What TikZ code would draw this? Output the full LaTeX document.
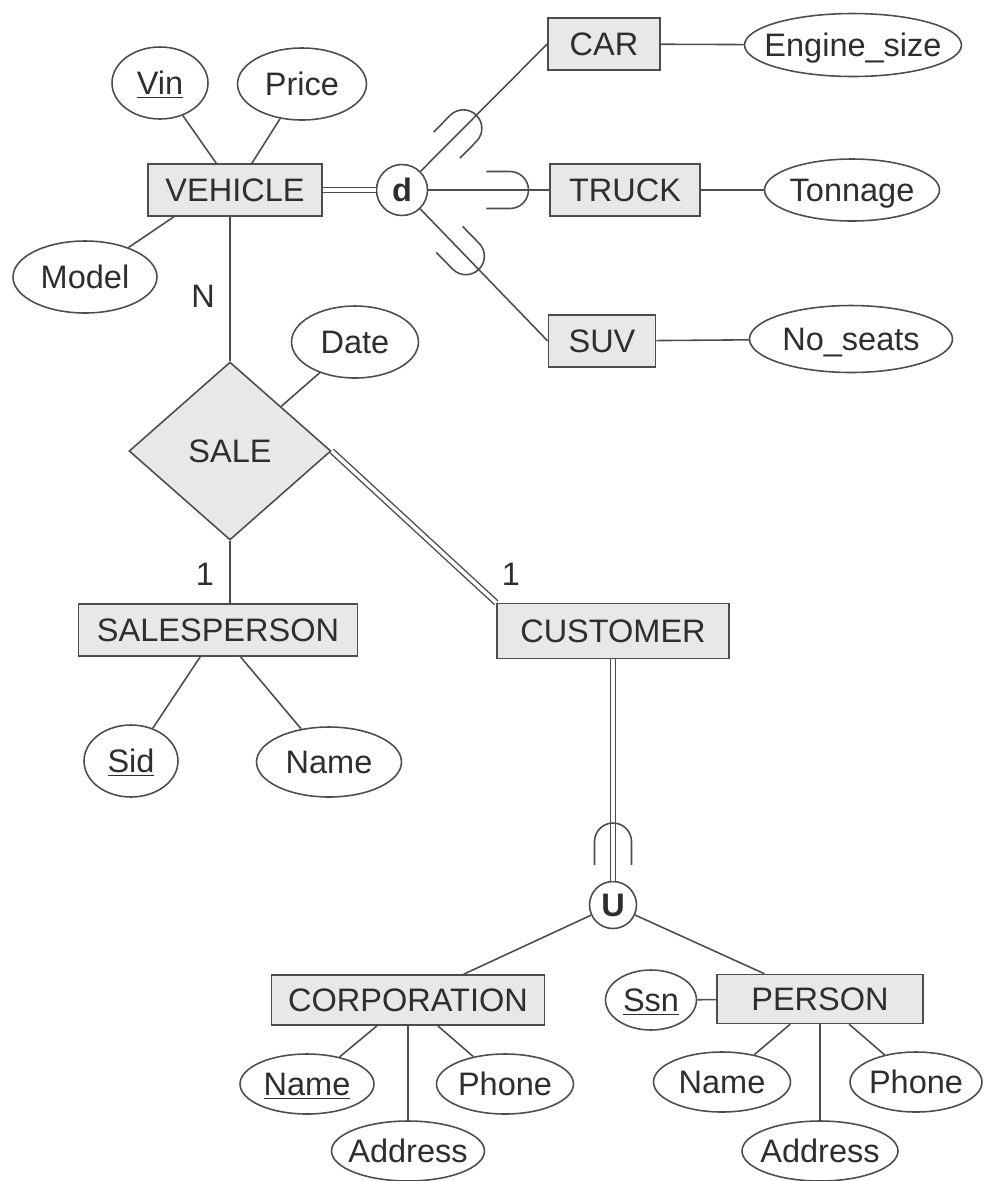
\documentclass[tikz,border=0pt]{standalone}
\usepackage{fontspec}
\setmainfont{Liberation Sans}
\usetikzlibrary{shapes.geometric,calc}

\definecolor{linegray}{HTML}{4D4D4D}
\definecolor{boxgray}{HTML}{E8E8E8}
\definecolor{textgray}{HTML}{2E2E2E}
\newcommand{\erfont}{\fontsize{18.5}{22}\selectfont}
% subset mark: arc centre, direction of the bulge
\newcommand{\subsetarc}[2]{%
  \draw[shift={(#1)}, rotate=#2] (-0.47cm,0.37cm) -- (0,0.37cm)
    arc[start angle=90, end angle=-90, radius=0.37cm] -- (-0.47cm,-0.37cm);}

\begin{document}
\begin{tikzpicture}[x=0.02cm, y=-0.02cm, line width=0.9pt, color=linegray, text=textgray, font=\erfont,
    every label/.append style={text height=13pt, text depth=0pt, inner sep=0pt},
    entity/.style={rectangle, draw, fill=boxgray, minimum width=#1, minimum height=1.03cm, inner sep=0pt},
    attr/.style 2 args={ellipse, draw, minimum width=#1, minimum height=#2, inner sep=0pt},
    relation/.style={diamond, draw, fill=boxgray, minimum width=4.04cm, minimum height=3.56cm, inner sep=0pt},
    joint/.style={circle, draw, fill=white, minimum size=#1, inner sep=0pt, font=\erfont\bfseries},
    dbl/.style={double=white, double distance=2pt, line width=0.8pt}]
    \useasboundingbox (0,0) rectangle (984,1181);

    % vehicle and its subclasses
    \node[entity=3.48cm] (vehicle) at (235,190) {VEHICLE};
    \node[attr={1.92cm}{1.44cm}, label=center:{\underline{Vin}}] (vin) at (160,83) {};
    \node[attr={2.58cm}{1.44cm}, label=center:Price] (price) at (302,84) {};
    \node[attr={2.88cm}{1.44cm}, label=center:Model] (model) at (85,277) {};
    \node[joint=1.02cm] (d) at (402,190) {d};
    \node[entity=2.24cm] (car) at (604,44) {CAR};
    \node[entity=3.0cm] (truck) at (625,190) {TRUCK};
    \node[entity=2.14cm] (suv) at (602,341) {SUV};
    \node[attr={4.34cm}{1.26cm}, label=center:Engine\_size] (engine) at (853,45) {};
    \node[attr={3.5cm}{1.24cm}, label=center:Tonnage] (tonnage) at (852,190) {};
    \node[attr={4.06cm}{1.34cm}, label=center:No\_seats] (seats) at (851,339) {};

    % sale relationship
    \node[relation] (sale) at (230,451) {SALE};
    \node[attr={2.54cm}{1.44cm}, label=center:Date] (date) at (355,342) {};
    \node (cardn) at (203,296) {N};
    \node (cards) at (205,574) {1};
    \node (cardc) at (511,574) {1};
    \node[entity=5.58cm] (salesperson) at (218,630) {SALESPERSON};
    \node[attr={1.88cm}{1.44cm}, label=center:{\underline{Sid}}] (sid) at (131,761) {};
    \node[attr={2.9cm}{1.4cm}, label=center:Name] (spname) at (329,762) {};
    \node[entity=4.64cm, minimum height=1.1cm] (customer) at (613,631) {CUSTOMER};

    % union category
    \node[joint=0.94cm] (u) at (613,905) {U};
    \node[entity=5.46cm, minimum height=1.0cm] (corporation) at (408,1000) {CORPORATION};
    \node[entity=4.12cm, minimum height=0.98cm] (person) at (820,999) {PERSON};
    \node[attr={1.82cm}{1.2cm}, label=center:{\underline{Ssn}}] (ssn) at (651,1000) {};
    \node[attr={2.68cm}{1.2cm}, label=center:{\underline{Name}}] (cname) at (307,1084) {};
    \node[attr={3.06cm}{1.2cm}, label=center:Address] (caddress) at (408,1151) {};
    \node[attr={2.74cm}{1.2cm}, label=center:Phone] (cphone) at (505,1084) {};
    \node[attr={2.74cm}{1.2cm}, label=center:Name] (pname) at (722,1082) {};
    \node[attr={3.12cm}{1.2cm}, label=center:Address] (paddress) at (820,1151) {};
    \node[attr={2.64cm}{1.2cm}, label=center:Phone] (pphone) at (916,1082) {};

    % connectors
    \draw (vin) -- (vehicle);
    \draw (price) -- (vehicle);
    \draw (model) -- ([xshift=0.54cm]vehicle.south west);
    \draw[dbl] (vehicle) -- (d);
    \draw (d) -- (car.west);
    \draw (d) -- (truck);
    \draw (d) -- (suv.west);
    \draw (car) -- (engine);
    \draw (truck) -- (tonnage);
    \draw (suv) -- (seats);
    \draw (sale.north) -- (sale.north |- vehicle.south);
    \draw (date) -- (sale);
    \draw (sale.south) -- (sale.south |- salesperson.north);
    \draw[dbl] (sale.east) -- (customer.north west);
    \draw (sid) -- (salesperson);
    \draw (spname) -- (salesperson);
    \draw[dbl] (customer) -- (u);
    \draw (u) -- (corporation);
    \draw (u) -- (person);
    \draw (ssn) -- (person);
    \draw (cname) -- (corporation);
    \draw (caddress) -- (corporation);
    \draw (cphone) -- (corporation);
    \draw (pname) -- (person);
    \draw (paddress) -- (person);
    \draw (pphone) -- (person);

    % subset marks
    \coordinate (carmark) at ($(d)!1.74cm!(car.west)$);
    \coordinate (truckmark) at ($(d)!2.16cm!(truck.west)$);
    \coordinate (suvmark) at ($(d)!1.84cm!(suv.west)$);
    \coordinate (umark) at ($(u)!1.27cm!(customer)$);
    \subsetarc{carmark}{45.4}
    \subsetarc{truckmark}{0}
    \subsetarc{suvmark}{-45.6}
    \subsetarc{umark}{90}
\end{tikzpicture}
\end{document}
